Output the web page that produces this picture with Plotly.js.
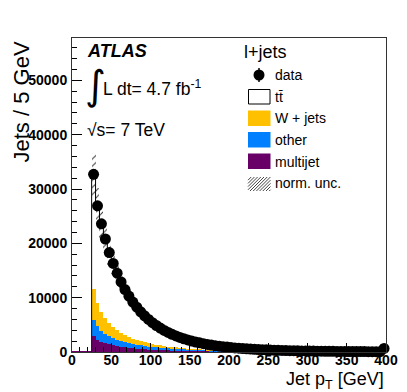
<!DOCTYPE html>
<html>
<head>
<meta charset="utf-8">
<script src="https://cdn.plot.ly/plotly-3.0.1.min.js"></script>
<style>html,body{margin:0;padding:0;background:#fff;}#chart{width:407px;height:392px;}</style>
</head>
<body>
<div id="chart"></div>
<script>
// Bin centres (GeV), 5 GeV bins from 25 to 400 (last bin includes overflow)
const binCenters = [27.5,32.5,37.5,42.5,47.5,52.5,57.5,62.5,67.5,72.5,77.5,82.5,87.5,92.5,97.5,
  102.5,107.5,112.5,117.5,122.5,127.5,132.5,137.5,142.5,147.5,152.5,157.5,162.5,167.5,172.5,
  177.5,182.5,187.5,192.5,197.5,202.5,207.5,212.5,217.5,222.5,227.5,232.5,237.5,242.5,247.5,
  252.5,257.5,262.5,267.5,272.5,277.5,282.5,287.5,292.5,297.5,302.5,307.5,312.5,317.5,322.5,
  327.5,332.5,337.5,342.5,347.5,352.5,357.5,362.5,367.5,372.5,377.5,382.5,387.5,392.5,397.5];
const binWidth = 5;
const xRange = [0, 400];

const dataValues = [32700,26900,23600,20800,18300,16300,14500,12900,11500,10300,9200,8250,7400,6650,6000,
  5400,4880,4400,3980,3600,3260,2960,2690,2440,2220,2020,1840,1680,1530,1400,
  1280,1170,1070,980,900,825,757,695,640,590,543,500,462,427,395,
  366,339,314,291,270,251,233,217,202,188,175,163,152,142,133,
  124,116,109,102,96,90,84,79,74,70,66,62,58,55,650];

const multijet = [2900,2300,1800,1600,1400,1250,1100,950,850,750,670,600,540,490,450,
  410,380,350,320,290,265,240,215,195,175,155,140,125,110,100,
  90,80,72,65,58,52,47,42,38,34,30,27,24,22,20,
  18,16,14,13,12,11,10,9,8,7,7,6,6,5,5,
  4,4,4,3,3,3,3,2,2,2,2,2,2,1,20];

const other = [3000,2400,2100,1750,1500,1300,1150,1050,930,850,780,720,660,600,550,
  510,470,430,400,370,345,320,295,275,255,235,215,200,185,170,
  155,145,133,122,112,103,95,88,81,75,70,64,59,54,50,
  46,42,39,36,33,30,28,26,24,22,20,19,17,16,14,
  13,12,11,11,10,9,8,8,7,6,6,5,5,5,55];

const wjets = [5700,4300,3500,2850,2400,2050,1750,1500,1320,1150,1000,880,780,700,620,
  550,490,440,390,350,310,280,260,230,210,195,180,165,155,140,
  130,120,110,103,95,88,81,75,69,63,58,54,50,46,42,
  39,37,34,31,28,26,24,22,20,19,17,15,14,13,12,
  12,11,10,9,8,7,7,7,6,6,5,5,4,4,45];

const ttbar = [21100,17900,16200,14600,13000,11700,10500,9400,8400,7550,6750,6050,5420,4860,4380,
  3930,3540,3180,2870,2590,2340,2120,1920,1740,1580,1435,1305,1190,1080,990,
  905,825,755,690,635,582,534,490,452,418,385,355,329,305,283,
  263,244,227,211,197,184,171,160,150,140,131,123,115,108,102,
  95,89,84,79,75,71,66,62,59,56,53,50,47,45,530];

const normUncFraction = 0.12;

const xTickLabels = ['0','50','100','150','200','250','300','350','400'];

// colours
const colW = '#FFC000', colOther = '#0080FF', colMulti = '#680068';

// cumulative bases built from the arrays
const n = binCenters.length;
const base1 = multijet.slice();
const base2 = multijet.map((v,i)=>v+other[i]);
const base3 = base2.map((v,i)=>v+wjets[i]);
const total = base3.map((v,i)=>v+ttbar[i]);
const zeros = multijet.map(()=>0);
const widths = binCenters.map(()=>binWidth);

// step outline of the stack top (tt̄ histogram outline)
const edgesX = [binCenters[0]-binWidth/2];
const stepY = [0];
for (let i=0;i<n;i++){ edgesX.push(binCenters[i]-binWidth/2); stepY.push(total[i]); }
edgesX.push(binCenters[n-1]+binWidth/2); stepY.push(total[n-1]);

const traces = [
  {type:'scatter', mode:'lines', name:'multijet empty bins', x:[xRange[0], binCenters[0]-binWidth/2], y:[0,0],
   line:{color:colMulti, width:2}, showlegend:false, hoverinfo:'skip', cliponaxis:false},
  {type:'bar', name:'multijet', x:binCenters, y:multijet, base:zeros, width:widths,
   marker:{color:colMulti, line:{width:0}}, showlegend:false, hoverinfo:'skip'},
  {type:'bar', name:'other', x:binCenters, y:other, base:base1, width:widths,
   marker:{color:colOther, line:{width:0}}, showlegend:false, hoverinfo:'skip'},
  {type:'bar', name:'W + jets', x:binCenters, y:wjets, base:base2, width:widths,
   marker:{color:colW, line:{width:0}}, showlegend:false, hoverinfo:'skip'},
  {type:'bar', name:'tt̄', x:binCenters, y:ttbar, base:base3, width:widths,
   marker:{color:'#ffffff', line:{width:0}}, showlegend:false, hoverinfo:'skip'},
  {type:'bar', name:'norm. unc.', x:binCenters, y:total.map(v=>2*normUncFraction*v),
   base:total.map(v=>v*(1-normUncFraction)), width:widths,
   marker:{color:'rgba(0,0,0,0)', line:{width:0},
     pattern:{shape:'/', fgcolor:'#333333', bgcolor:'rgba(0,0,0,0)', size:5, solidity:0.2}},
   showlegend:false, hoverinfo:'skip'},
  {type:'scatter', mode:'lines', name:'tt̄ outline', x:edgesX, y:stepY,
   line:{shape:'hv', color:'#000', width:1}, showlegend:false, hoverinfo:'skip'},
  {type:'scatter', mode:'markers', name:'data', x:binCenters, y:dataValues, cliponaxis:false,
   marker:{color:'#000', size:11, symbol:'circle'}, showlegend:false}
];

// pixel -> paper helpers for annotations / legend decoration
const PL=72, PT=38, PW=314, PH=314;
const px = x => (x-PL)/PW;
const py = y => (PT+PH-y)/PH;

const FONT = 'Liberation Sans, Arial, Helvetica, sans-serif';
const ann = [];
function txt(t, x, y, size, opts){
  ann.push(Object.assign({text:t, xref:'paper', yref:'paper', x:px(x), y:py(y),
    xanchor:'left', yanchor:'middle', showarrow:false,
    font:{family:FONT, size:size, color:'#000'}}, opts||{}));
}
txt('<b><i>ATLAS</i></b>', 85, 51, 18);
txt('∫', 83, 85, 40, {font:{family:'DejaVu Sans', size:40, color:'#000'}});
txt('L dt= 4.7 fb<sup>-1</sup>', 101, 88, 17.5);
txt('√s= 7 TeV', 85, 130, 17.5);
txt('l+jets', 242, 52, 18);
const legItems = [['data',75],['tt̄',96.5],['W + jets',118],['other',140],['multijet',161.5],['norm. unc.',183.5]];
legItems.forEach(([t,y])=>txt(t, 273, y, 14));
// axis titles
txt('Jet p<sub>T</sub> [GeV]', 386, 380, 18, {xanchor:'right'});
ann.push({text:'Jets / 5 GeV', xref:'paper', yref:'paper', x:px(21), y:py(40),
  xanchor:'center', yanchor:'top', textangle:-90, showarrow:false,
  font:{family:FONT, size:22, color:'#000'}});

const shapes = [];
function rect(x0,y0,x1,y1,fill,line){
  shapes.push({type:'rect', xref:'paper', yref:'paper', x0:px(x0), x1:px(x1), y0:py(y1), y1:py(y0),
    fillcolor:fill, line:line||{width:0}});
}
// data legend marker
shapes.push({type:'circle', xref:'paper', yref:'paper', x0:px(253.5), x1:px(264.5), y0:py(80.5), y1:py(69.5),
  fillcolor:'#000', line:{width:0}});
shapes.push({type:'line', xref:'paper', yref:'paper', x0:px(259), x1:px(259), y0:py(82), y1:py(68),
  line:{color:'#000', width:1.5}});
rect(248.5, 89.5, 270, 104, '#fff', {color:'#000', width:1});
rect(248, 110.5, 270.5, 126, colW);
rect(248, 132, 270.5, 147.5, colOther);
rect(248, 153.5, 270.5, 169, colMulti);
// hatched legend box
(function(){
  const x0=248, x1=270.5, y0=177, y1=191, step=3.2;
  let d='';
  for (let s=x0-(y1-y0); s<x1; s+=step){
    let ax=s, ay=y1, bx=s+(y1-y0), by=y0;
    if (ax<x0){ ay = y1-(x0-ax); ax=x0; }
    if (bx>x1){ by = y0+(bx-x1); bx=x1; }
    if (ax>=bx) continue;
    d += `M${px(ax)},${py(ay)}L${px(bx)},${py(by)}`;
  }
  shapes.push({type:'path', xref:'paper', yref:'paper', path:d, line:{color:'#444', width:1}});
})();

const layout = {
  width:407, height:392,
  margin:{l:72, r:21, t:38, b:40, pad:0},
  paper_bgcolor:'#fff', plot_bgcolor:'#fff',
  barmode:'overlay', bargap:0,
  showlegend:false,
  font:{family:FONT, color:'#000'},
  xaxis:{range:xRange, tickmode:'array', tickvals:xTickLabels.map(Number), ticktext:xTickLabels,
    ticks:'inside', ticklen:9, tickcolor:'#000', tickwidth:1,
    minor:{dtick:10, ticklen:5, ticks:'inside', tickcolor:'#000'},
    showgrid:false, zeroline:false, showline:true, mirror:true, linecolor:'#333', linewidth:1,
    tickfont:{family:FONT, size:14, color:'#000', weight:'bold'}, ticklabelstandoff:-5},
  yaxis:{range:[0,57800], dtick:10000, tick0:0, tickformat:'d',
    ticks:'inside', ticklen:10, tickcolor:'#000', tickwidth:1,
    minor:{dtick:2000, ticklen:5, ticks:'inside', tickcolor:'#000'},
    showgrid:false, zeroline:false, showline:true, mirror:true, linecolor:'#333', linewidth:1,
    tickfont:{family:FONT, size:14, color:'#000', weight:'bold'}, ticklabelstandoff:1},
  annotations:ann,
  shapes:shapes
};

Plotly.newPlot('chart', traces, layout, {displayModeBar:false, staticPlot:true});
</script>
</body>
</html>
